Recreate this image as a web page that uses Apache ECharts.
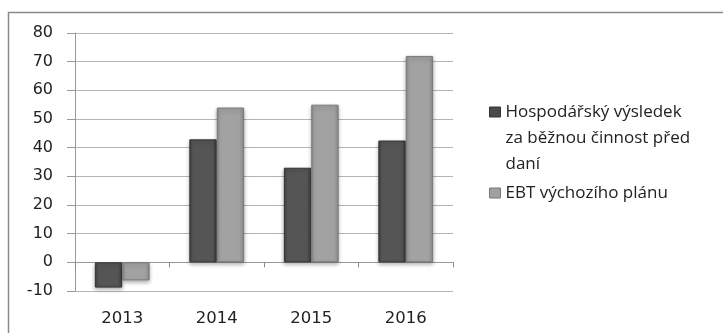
<!DOCTYPE html>
<html>
<head>
<meta charset="utf-8">
<script src="https://cdn.jsdelivr.net/npm/echarts@6/dist/echarts.min.js"></script>
<style>
    html, body { margin: 0; padding: 0; background: #fff; }
    #chart { width: 723px; height: 333px; }
</style>
</head>
<body>
<div id="chart"></div>
<script>
const categories = ['2013', '2014', '2015', '2016']
const seriesNames = ['Hospodářský výsledek\nza běžnou činnost před\ndaní', 'EBT výchozího plánu']
const hvValues = [-8.8, 42.9, 33, 42.5]
const ebtValues = [-6.3, 54, 55, 72]

const myChart = echarts.init(document.getElementById('chart'))

const barGrad = (dark, mid, light) => new echarts.graphic.LinearGradient(0, 0, 1, 0, [
    { offset: 0, color: dark },
    { offset: 0.12, color: mid },
    { offset: 0.85, color: mid },
    { offset: 1, color: light }
])

const legendText = {
    fontFamily: 'Open Sans',
    fontSize: 17,
    color: '#222',
    lineHeight: 26
}

let option = {
    animation: false,
    textStyle: { fontFamily: 'DejaVu Sans' },
    graphic: [{
        type: 'rect',
        shape: { x: 8.5, y: 12.5, width: 730, height: 340 },
        style: { fill: 'none', stroke: '#8a8a8a', lineWidth: 1.5 }
    }],
    legend: [{
        left: 489,
        top: 47,
        padding: 0,
        itemWidth: 11,
        itemHeight: 10,
        icon: 'rect',
        textStyle: legendText,
        // two empty lines on top so the icon sits next to the first text line
        formatter: name => '\n\n' + name,
        data: [{
            name: seriesNames[0],
            itemStyle: { color: '#4a4a4a', borderColor: '#333', borderWidth: 1 }
        }]
    }, {
        left: 489,
        top: 180,
        padding: 0,
        itemWidth: 11,
        itemHeight: 10,
        icon: 'rect',
        textStyle: legendText,
        data: [{
            name: seriesNames[1],
            itemStyle: { color: '#a0a0a0', borderColor: '#777', borderWidth: 1 }
        }]
    }],
    grid: {
        left: 75,
        right: 270,
        top: 33,
        bottom: 42
    },
    xAxis: [{
        type: 'category',
        data: categories,
        axisLine: { onZero: true, lineStyle: { color: '#999', width: 1 } },
        axisTick: { show: true, length: 5, lineStyle: { color: '#888' } },
        axisLabel: { show: false }
    }, {
        type: 'category',
        data: categories,
        position: 'bottom',
        axisLine: { show: false, onZero: false },
        axisTick: { show: false },
        axisLabel: { color: '#222', fontSize: 16.5, margin: 19 }
    }],
    yAxis: {
        type: 'value',
        min: -10,
        max: 80,
        interval: 10,
        axisLine: { show: true, lineStyle: { color: '#999' } },
        axisTick: { show: true, length: 8, lineStyle: { color: '#999' } },
        axisLabel: { color: '#222', fontSize: 16, margin: 22 },
        splitLine: { lineStyle: { color: '#b5b5b5' } }
    },
    series: [{
        name: seriesNames[0],
        type: 'bar',
        data: hvValues,
        barGap: '0%',
        barCategoryGap: '42%',
        itemStyle: {
            color: barGrad('#3e3e3e', '#555', '#444'),
            borderColor: '#333',
            borderWidth: 1,
            shadowColor: 'rgba(0,0,0,0.3)',
            shadowBlur: 4,
            shadowOffsetY: 2
        }
    }, {
        name: seriesNames[1],
        type: 'bar',
        data: ebtValues,
        itemStyle: {
            color: barGrad('#8a8a8a', '#a2a2a2', '#8c8c8c'),
            borderColor: '#7a7a7a',
            borderWidth: 1,
            shadowColor: 'rgba(0,0,0,0.3)',
            shadowBlur: 4,
            shadowOffsetY: 2
        }
    }]
}

myChart.setOption(option)
</script>
</body>
</html>
